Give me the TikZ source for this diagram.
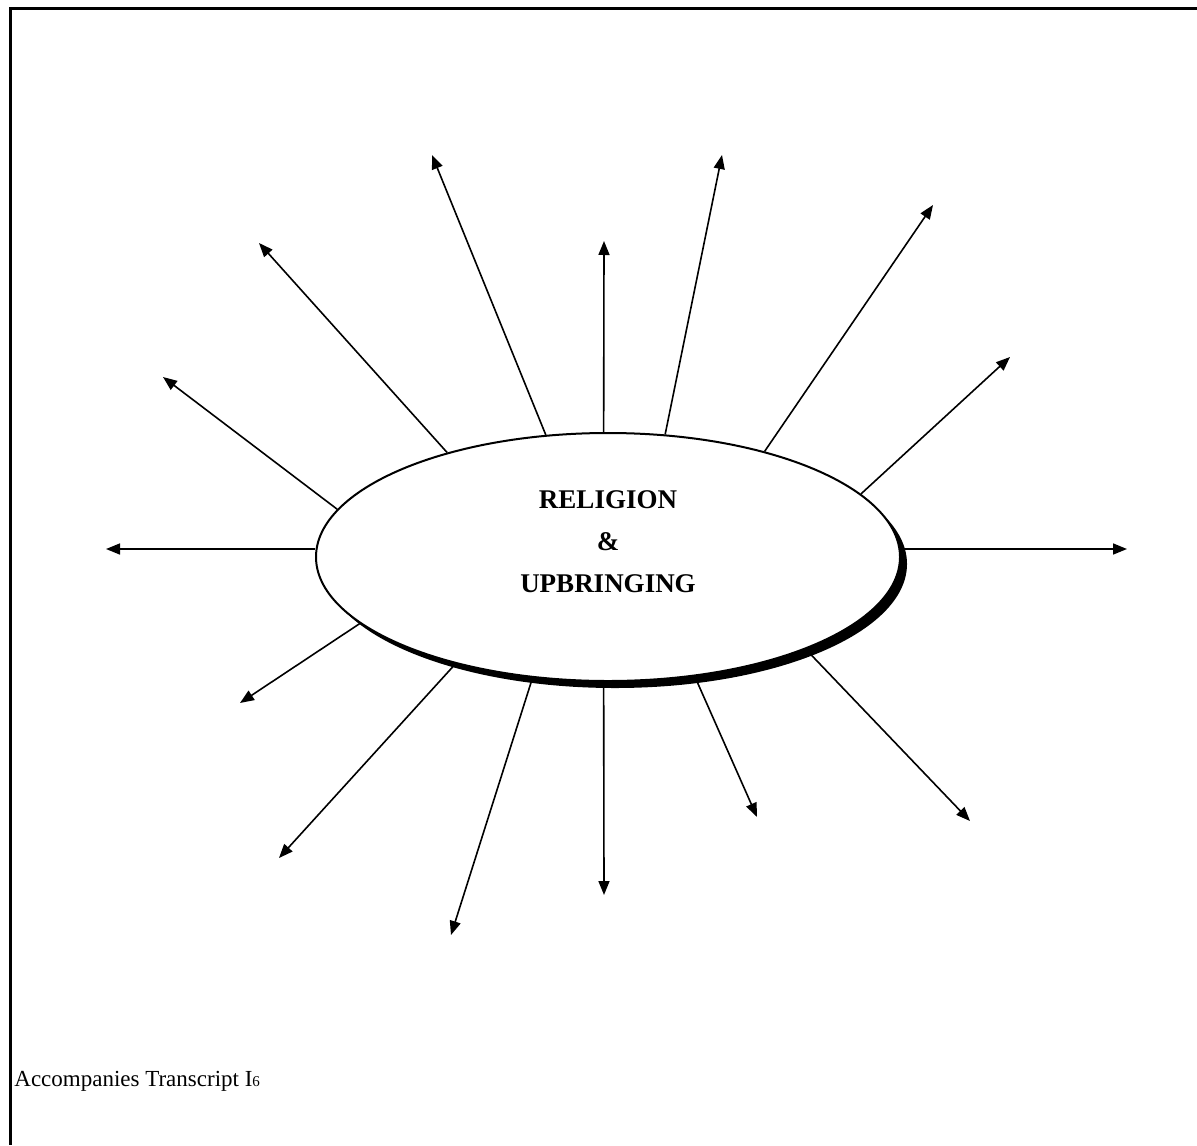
\documentclass[tikz,border=0pt]{standalone}
\usepackage{fontspec}
\setmainfont{Liberation Serif}
\usetikzlibrary{arrows.meta,shapes.geometric,shadows}
\begin{document}
\begin{tikzpicture}[x=0.5pt,y=-0.5pt,
  spoke/.style={line width=0.8pt,-{Triangle[length=7pt,width=5.5pt]}},
  hub/.style={ellipse,draw,line width=1pt,fill=white,inner sep=0pt,
    minimum width=292pt,minimum height=124pt,
    drop shadow={shadow xshift=3.5pt,shadow yshift=-3.5pt,fill=black,opacity=1}}]
\useasboundingbox (0,0) rectangle (1197,1145);
% page edge
\draw[line width=1.5pt] (1197,9) -- (10,9) -- (10,1145);
\node[hub] (core) at (608,557) {};
\node[font=\bfseries\fontsize{13.5}{21}\selectfont,align=center] (title)
  at ([yshift=7.5pt]core.center) {RELIGION\\\&\\UPBRINGING};
% arrows out of the oval
\foreach \ang/\tx/\ty [count=\i] in {170.7/163/377, 147.4/259/243,
    117/432/155, 92/604/241, 65/722/155, 34/933/205, 14.7/1010/357,
    335.6/970/821, 306/757/817, 268.3/604/895, 238.7/451/935, 215.1/279/858,
    195.9/240/703}
{
  \coordinate (t\i) at (\tx,\ty);
  \draw[spoke] (core.\ang) -- (t\i);
}
% the two level ones
\coordinate (wside) at ([yshift=4pt]core.west);
\coordinate (eside) at ([yshift=4pt]core.east);
\coordinate (tw) at (106,0 |- wside);
\coordinate (te) at (1127,0 |- eside);
\draw[spoke] (wside) -- (tw);
\draw[spoke] (eside) -- (te);
\node[font=\fontsize{11.5}{14}\selectfont,anchor=base west,inner sep=0pt] (note)
  at (14,1086) {Accompanies Transcript I{\fontsize{7.5}{9}\selectfont 6}};
\end{tikzpicture}
\end{document}
